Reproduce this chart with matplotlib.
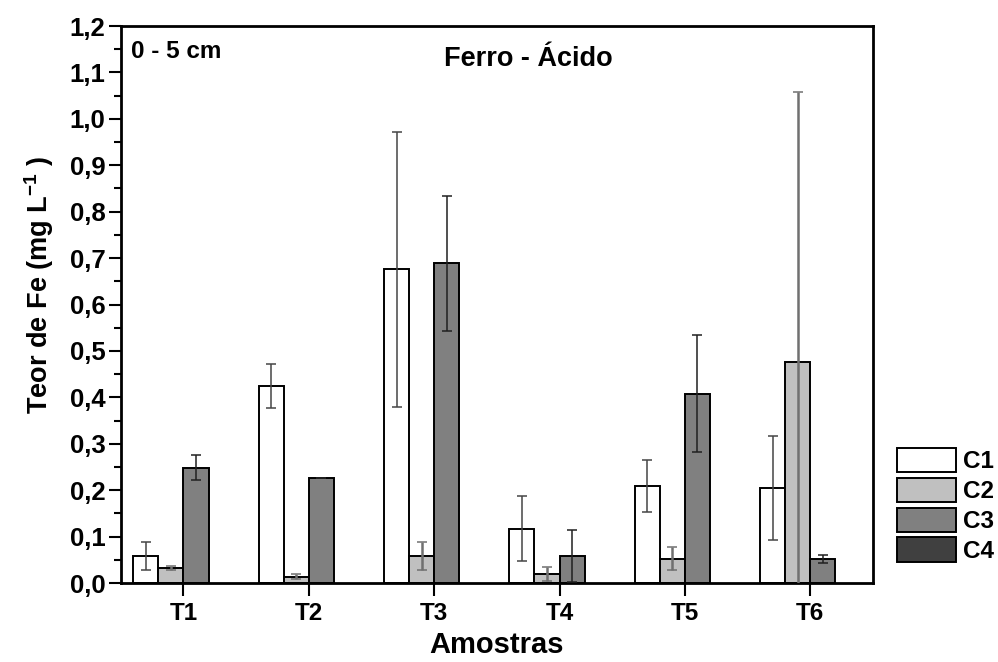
import numpy as np
import matplotlib.pyplot as plt
from matplotlib.ticker import MultipleLocator

plt.rcParams['font.family'] = ['Liberation Sans', 'DejaVu Sans']
plt.rcParams['font.weight'] = 'bold'
plt.rcParams['mathtext.fontset'] = 'custom'
plt.rcParams['mathtext.rm'] = 'Liberation Sans:bold'
plt.rcParams['mathtext.bf'] = 'Liberation Sans:bold'

amostras = ["T1", "T2", "T3", "T4", "T5", "T6"]
series = ["C1", "C2", "C3", "C4"]

# mean values (mg/L)
c1 = [0.058, 0.424, 0.676, 0.117, 0.210, 0.205]
c2 = [0.032, 0.014, 0.058, 0.020, 0.052, 0.477]
c3 = [0.248, 0.227, 0.689, 0.059, 0.408, 0.052]
c4 = [np.nan] * 6

# error bars
c1_err = [0.030, 0.047, 0.296, 0.070, 0.056, 0.112]
c2_err = [0.004, 0.005, 0.031, 0.015, 0.025, 0.581]
c3_err = [0.027, 0.0, 0.145, 0.056, 0.126, 0.008]
c4_err = [0.0] * 6

vals = [c1, c2, c3, c4]
errs = [c1_err, c2_err, c3_err, c4_err]
cores = ["#ffffff", "#c0c0c0", "#808080", "#404040"]
err_cores = ["#454545", "#707070", "#202020", "#202020"]
err_lw = [1.1, 1.8, 1.1, 1.1]

fig = plt.figure(figsize=(9.98, 6.62), dpi=100)
ax = fig.add_axes([0.121, 0.1193, 0.7537, 0.8414])

x = np.arange(1, len(amostras) + 1)
w = 0.2
for i, s in enumerate(series):
    pos = x + (i - 1.5) * w
    ax.bar(pos, vals[i], width=w, color=cores[i], edgecolor="black",
           linewidth=1.4, label=s, zorder=2)
    ax.errorbar(pos, vals[i], yerr=errs[i], fmt="none", ecolor=err_cores[i],
                elinewidth=err_lw[i], capsize=3.6, capthick=1.1, zorder=3)

ax.set_xlim(0.5, 6.5)
ax.set_ylim(0, 1.2)
ax.set_xticks(x)
ax.set_xticklabels(amostras)
ax.yaxis.set_major_locator(MultipleLocator(0.1))
ax.yaxis.set_minor_locator(MultipleLocator(0.05))
ax.yaxis.set_major_formatter(plt.FuncFormatter(lambda v, p: f"{v:.1f}".replace(".", ",")))

ax.tick_params(axis="y", which="major", direction="out", length=9, width=1.5,
               labelsize=18.5, pad=2)
ax.tick_params(axis="y", which="minor", direction="out", length=5, width=1.5)
ax.tick_params(axis="x", which="major", direction="out", length=9, width=1.5,
               labelsize=17.5, pad=5)
for sp in ax.spines.values():
    sp.set_linewidth(2)

ax.set_xlabel("Amostras", fontsize=21, fontweight="bold", labelpad=4)
ax.set_ylabel("Teor de Fe (mg L$^{-1}$ )", fontsize=19.5, fontweight="bold")
ax.yaxis.set_label_coords(-0.086, 0.535)

ax.text(0.013, 0.975, "0 - 5 cm", transform=ax.transAxes, fontsize=17.5,
        fontweight="bold", va="top", ha="left")
ax.text(0.542, 0.965, "Ferro - Ácido", transform=ax.transAxes, fontsize=19.5,
        fontweight="bold", va="top", ha="center")

fig.legend(loc="upper left", bbox_to_anchor=(896.7 / 998, 1 - 448 / 662),
           frameon=False, fontsize=17.5, handlelength=2.43, handleheight=1.17,
           handletextpad=0.3, labelspacing=0.18, borderpad=0, borderaxespad=0)

fig.savefig("out.png", dpi=100)
